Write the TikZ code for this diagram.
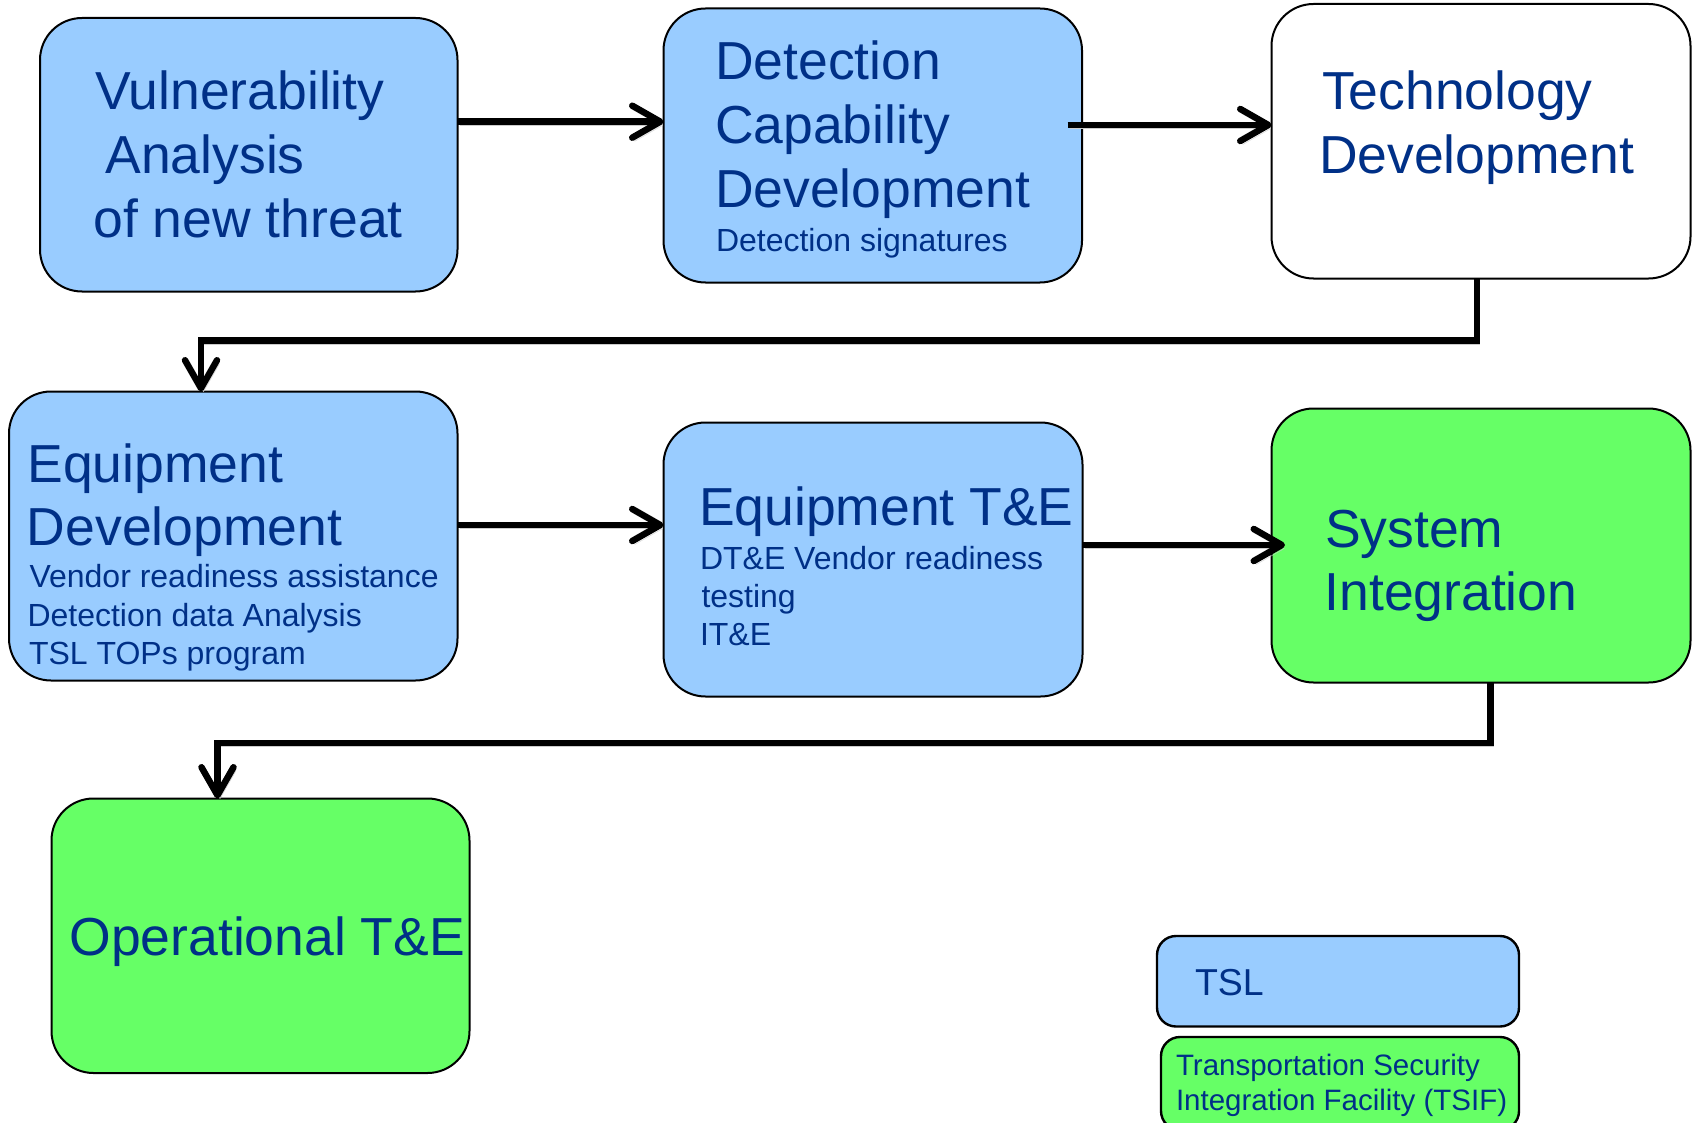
\documentclass[tikz,border=0pt]{standalone}
\usepackage{fontspec}
\setmainfont{Liberation Sans}
\usetikzlibrary{arrows.meta,calc}

\definecolor{tslblue}{RGB}{153,204,255}
\definecolor{tsifgreen}{RGB}{102,255,102}
\definecolor{inkblue}{RGB}{0,48,135}

\tikzset{
  stagebox/.style={draw=black, line width=2pt, rounded corners=42pt,
    inner sep=0pt, outer sep=0pt},
  keybox/.style={stagebox, rounded corners=19pt, line width=2.4pt},
  bigtxt/.style={anchor=base west, inner sep=0pt, outer sep=0pt, text=inkblue,
    font=\fontsize{53.5}{64}\selectfont},
  smalltxt/.style={bigtxt, font=\fontsize{32}{38}\selectfont},
  keytxt/.style={bigtxt, font=\fontsize{37.5}{44}\selectfont},
  keysmall/.style={bigtxt, font=\fontsize{29.5}{35}\selectfont},
  conn/.style={line width=6.5pt,
    -{Straight Barb[length=28pt,width=32pt,round]},
    preaction={draw=black!20, transform canvas={shift={(2.5,3.5)}}}}
}

\begin{document}
\begin{tikzpicture}[x=1pt,y=-1pt]
  % canvas
  \fill[white] (0,0) rectangle (1696,1123);
  \useasboundingbox (0,0) rectangle (1696,1123);

  % process stages
  \node[stagebox, fill=tslblue, minimum width=417.5pt, minimum height=273.5pt]
    (b1) at (248.75,154.75) {};
  \node[stagebox, fill=tslblue, minimum width=418.5pt, minimum height=274pt]
    (b2) at (872.75,145.5) {};
  \node[stagebox, fill=white, minimum width=419pt, minimum height=274.5pt]
    (b3) at (1481,141.25) {};
  \node[stagebox, fill=tslblue, minimum width=448.5pt, minimum height=289pt]
    (b4) at (233.25,536) {};
  \node[stagebox, fill=tslblue, minimum width=419pt, minimum height=274pt]
    (b5) at (873,559.5) {};
  \node[stagebox, fill=tsifgreen, minimum width=419pt, minimum height=274pt]
    (b6) at (1481,545.5) {};
  \node[stagebox, fill=tsifgreen, minimum width=418pt, minimum height=274.5pt]
    (b7) at (260.5,935.75) {};

  % key
  \node[keybox, fill=tslblue, minimum width=362pt, minimum height=90.5pt]
    (k1) at (1338,981.25) {};
  \node[keybox, fill=tsifgreen, minimum width=358pt, minimum height=93pt]
    (k2) at (1340,1083.5) {};

  % stage labels
  \node[bigtxt] (v1) at (95,110) {Vulnerability};
  \node[bigtxt] (v2) at (105.5,173.3) {Analysis};
  \node[bigtxt] (v3) at (93.5,238) {of new threat};

  \node[bigtxt] (d1) at (715,80) {Detection};
  \node[bigtxt] (d2) at (715,144) {Capability};
  \node[bigtxt] (d3) at (715,208) {Development};
  \node[smalltxt] (d4) at (716,251.7) {Detection signatures};

  \node[bigtxt] (t1) at (1322,109.3) {Technology};
  \node[bigtxt] (t2) at (1319,173.3) {Development};

  \node[bigtxt] (e1) at (27.5,482) {Equipment};
  \node[bigtxt] (e2) at (27,545) {Development};
  \node[smalltxt] (e3) at (29.5,587) {Vendor readiness assistance};
  \node[smalltxt] (e4) at (27.5,626) {Detection data Analysis};
  \node[smalltxt] (e5) at (29,664) {TSL TOPs program};

  \node[bigtxt] (q1) at (699,525) {Equipment T\&E};
  \node[smalltxt] (q2) at (700,569) {DT\&E Vendor readiness};
  \node[smalltxt] (q3) at (701.5,607) {testing};
  \node[smalltxt] (q4) at (700,645) {IT\&E};

  \node[bigtxt] (s1) at (1325,547) {System};
  \node[bigtxt] (s2) at (1324.5,610) {Integration};

  \node[bigtxt] (o1) at (69.5,955) {Operational T\&E};

  \node[keytxt] (k1t) at (1195,995) {TSL};
  \node[keysmall] (k2a) at (1176,1075) {Transportation Security};
  \node[keysmall] (k2b) at (1176,1110) {Integration Facility (TSIF)};

  % flow between stages
  \draw[conn] (b1.east |- 0,121.7) -- (b2.west |- 0,121.7);
  \draw[conn] ($(b2.east |- 0,125)+(-14.5,0)$) -- (b3.west |- 0,125);
  \draw[conn] (b3.south -| 1477,0) -- ++(0,62) -| (b4.north -| 201,0);
  \draw[conn] (b4.east |- 0,525) -- (b5.west |- 0,525);
  \draw[conn] (b5.east |- 0,545) -- ($(b6.west |- 0,545)+(13.5,0)$);
  \draw[conn] (b6.south -| 1490.5,0) -- ++(0,60.5) -| (b7.north -| 217.5,0);
\end{tikzpicture}
\end{document}
